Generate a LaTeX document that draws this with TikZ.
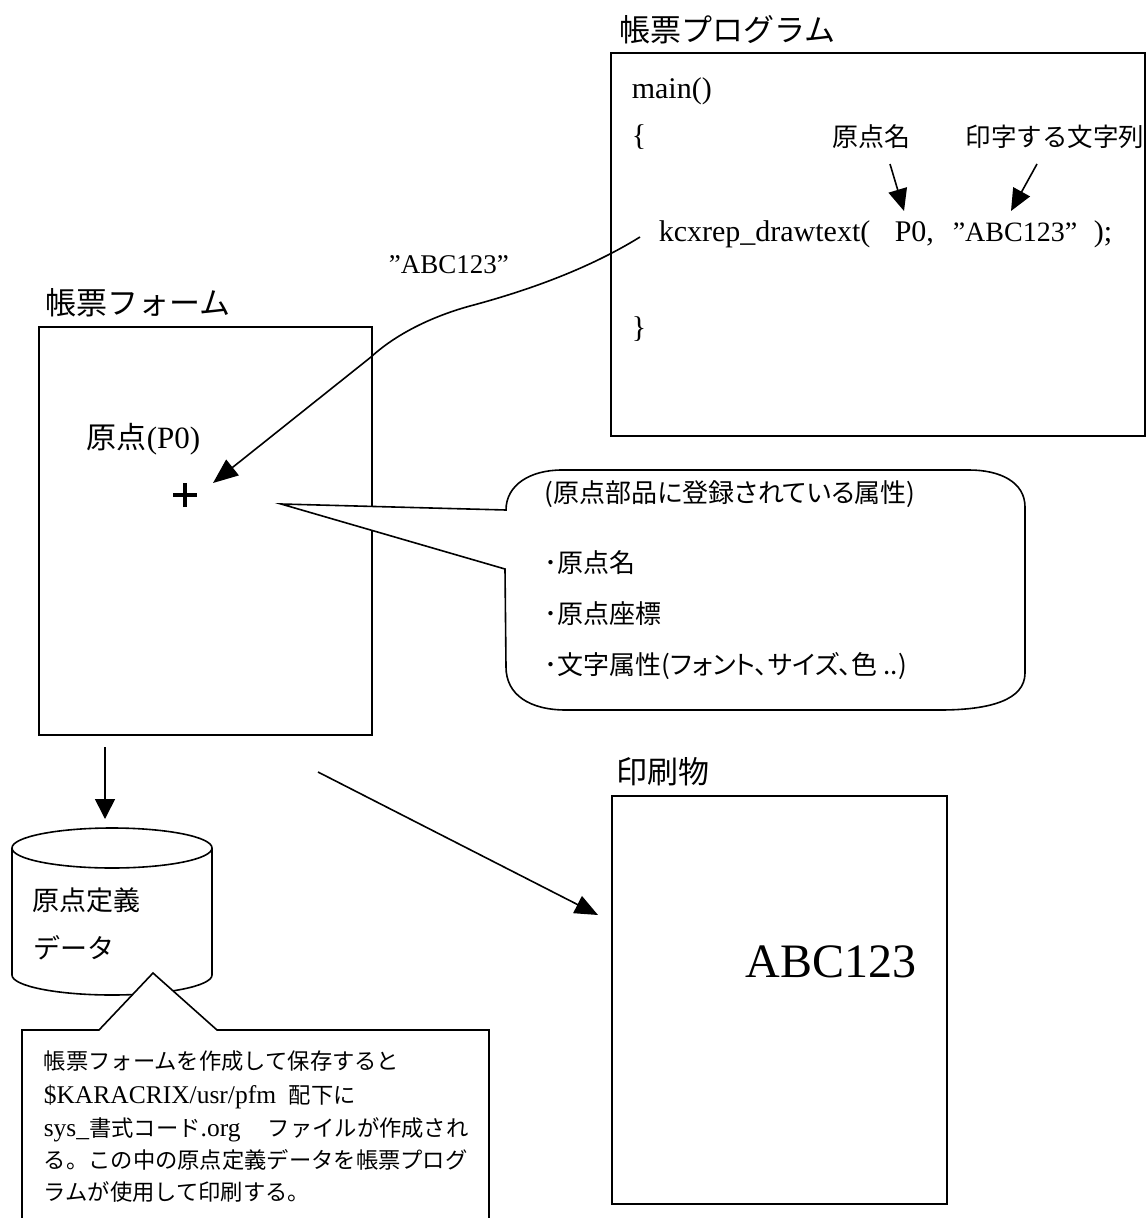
\documentclass[tikz,border=0pt]{standalone}
\usepackage{fontspec}
\setmainfont{Liberation Serif}
\newfontfamily\jp{Noto Sans CJK JP}
\newfontfamily\jpp[RawFeature=+palt]{Noto Sans CJK JP}
\usetikzlibrary{arrows.meta}
\newcommand\jnote[1]{{\jp\fontsize{22.3}{28}\selectfont #1}}
\begin{document}
\begin{tikzpicture}[x=1pt,y=-1pt,line width=1.6pt,line join=miter]
\tikzset{
 box/.style={draw, line width=1.6pt, inner sep=0pt, anchor=north west},
 ttl/.style={font=\jp\fontsize{31}{36}\selectfont, inner sep=0pt, anchor=west},
 code/.style={font=\fontsize{30}{34}\selectfont, inner sep=0pt, anchor=base west},
 jlab/.style={font=\jp\fontsize{26}{30}\selectfont, inner sep=0pt, anchor=west},
 blab/.style={font=\jpp\fontsize{26}{30}\selectfont, inner sep=0pt, anchor=west},
 notetxt/.style={font=\fontsize{25.5}{28}\selectfont, inner sep=0pt, anchor=base west},
 arr/.style={-{Triangle[length=22pt,width=19pt]}, line width=1.6pt},
}
\useasboundingbox (0,0) rectangle (1146,1218);
\clip (0,0) rectangle (1146,1218);

% ---------- program box ----------
\node[ttl] (progT) at (619,30) {帳票プログラム};
\node[box, minimum width=534pt, minimum height=383pt] (prog) at (610,52) {};
\node[code] (cmain) at (631,98) {main()};
\node[code] (cbra) at (631,145) {\{};
\node[jlab] (lname) at (832,137) {原点名};
\node[jlab, font=\jp\fontsize{25.5}{30}\selectfont] (lstr) at (965,137) {印字する文字列};
\node[code] (cfun) at (658,241) {kcxrep\_drawtext(};
\node[code] (cp0) at (894,241) {P0,};
\node[code, font=\fontsize{28}{32}\selectfont] (cabc) at (952,241) {”ABC123”};
\node[code] (cend) at (1093,241) {);};
\node[code] (cket) at (631,337) {\}};
\coordinate (a1s) at (890,164);
\coordinate (a1e) at (904,211);
\coordinate (a2s) at (1037,164);
\coordinate (a2e) at (1011,211);
\draw[arr] (a1s) -- (a1e);
\draw[arr] (a2s) -- (a2e);

% ---------- form box ----------
\node[ttl] (formT) at (45,303) {帳票フォーム};
\node[box, minimum width=333pt, minimum height=408pt] (form) at (38,326) {};
\node[inner sep=0pt, anchor=base west, font=\fontsize{31}{36}\selectfont] (orig) at (86,448) {{\jp\fontsize{30}{36}\selectfont 原点}(P0)};
\coordinate (plus) at (185,495);
\draw[line width=3.5pt] ([xshift=-12pt]plus) -- ([xshift=12pt]plus)
      ([yshift=-12pt]plus) -- ([yshift=12pt]plus);

% label on curve
\node[code, font=\fontsize{27}{30}\selectfont] (lbl) at (388,273) {”ABC123”};

% curved arrow
\coordinate (cs) at (640,237);
\coordinate (ce) at (213,483);
\draw[-{Triangle[length=25pt,width=20pt]}] (cs) .. controls (590,268) and (530,290) .. (470,306)
   .. controls (430,317) and (395,335) .. (371,357) -- (ce);

% ---------- speech bubble ----------
\coordinate (apex) at (281,504);
\draw[fill=white] (505,569) -- (506,667) .. controls (506,695) and (530,710) .. (566,710)
   -- (940,710) .. controls (990,710) and (1025,700) .. (1025,673)
   -- (1025,507) .. controls (1025,482) and (1000,470) .. (969,470)
   -- (562,470) .. controls (530,470) and (506,485) .. (506,510)
   -- (apex) -- cycle;
\node[blab] (b1) at (544,494) {(原点部品に登録されている属性)};
\node[blab] (b2) at (544,563) {･原点名};
\node[blab] (b3) at (544,614) {･原点座標};
\node[blab] (b4) at (544,666) {･文字属性(フォント、サイズ、色 ..)};

% ---------- arrows from form ----------
\coordinate (d1) at (105,747);
\coordinate (d2) at (105,819);
\draw[-{Triangle[length=20pt,width=20pt]}] (d1) -- (d2);
\coordinate (p1) at (318,772);
\coordinate (p2) at (598,915);
\draw[-{Triangle[length=23pt,width=19pt]}] (p1) -- (p2);

% ---------- cylinder ----------
\draw (112,848) ellipse [x radius=100pt, y radius=20pt];
\draw (12,848) -- (12,975) .. controls (12,986) and (56.8,995) .. (112,995)
   .. controls (167.2,995) and (212,986) .. (212,975) -- (212,848);
\node[jlab, font=\jp\fontsize{27}{30}\selectfont] (cy1) at (32,900) {原点定義};
\node[jlab, font=\jp\fontsize{27}{30}\selectfont] (cy2) at (33,948) {データ};

% ---------- note ----------
\coordinate (napex) at (153,973);
\draw[fill=white] (99,1030) -- (napex) -- (217,1030) -- (489,1030) -- (489,1240)
   -- (22,1240) -- (22,1030) -- cycle;
\node[notetxt] (n1) at (43,1069) {\jnote{帳票フォームを作成して保存すると}};
\node[notetxt] (n2a) at (43,1103) {\$KARACRIX/usr/pfm};
\node[notetxt] (n2b) at (288,1103) {\jnote{配下に}};
\node[notetxt] (n3a) at (43,1136) {sys\_\jnote{書式コード}.org};
\node[notetxt] (n3d) at (267,1136) {\jnote{ファイルが作成され}};
\node[notetxt] (n4) at (43,1168) {\jnote{る。この中の原点定義データを帳票プログ}};
\node[notetxt] (n5) at (43,1200) {\jnote{ラムが使用して印刷する。}};

% ---------- printed ----------
\node[ttl] (prT) at (616,772) {印刷物};
\node[box, minimum width=335pt, minimum height=408pt] (print) at (611,795) {};
\node[code, font=\fontsize{48}{52}\selectfont] (pabc) at (745,977) {ABC123};
\end{tikzpicture}
\end{document}
